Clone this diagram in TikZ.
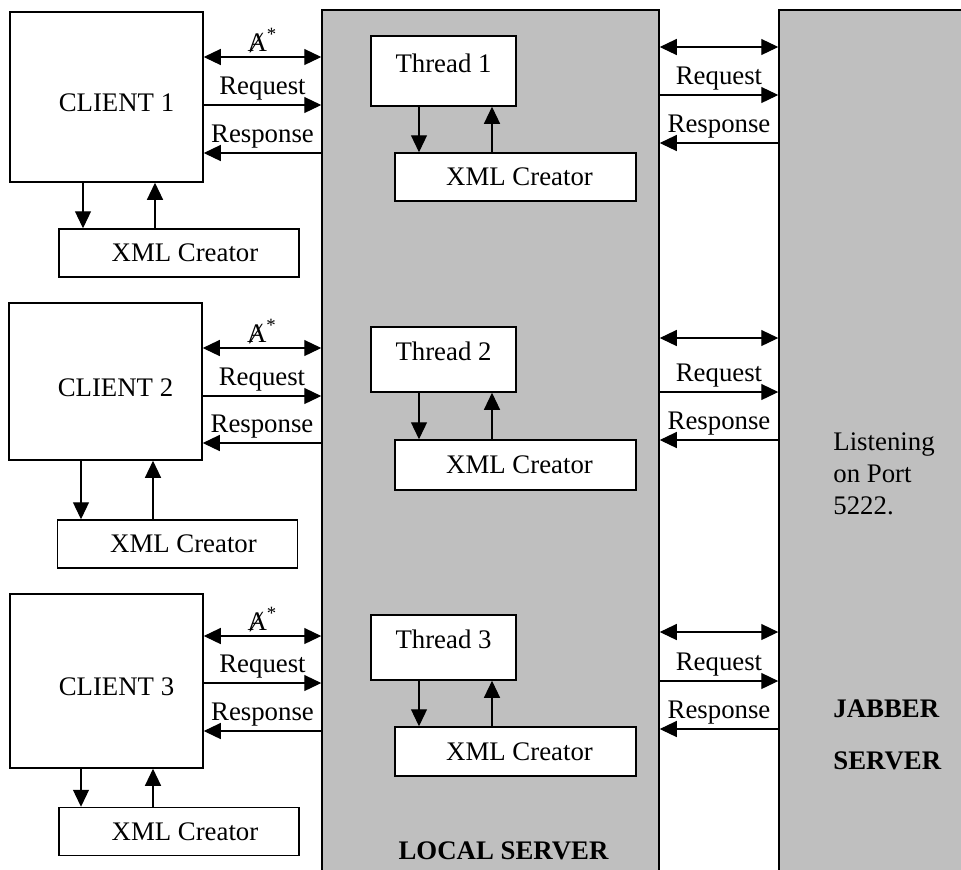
\documentclass[tikz,border=0pt]{standalone}
\usepackage{fontspec}
\setmainfont{Liberation Serif}
\usetikzlibrary{arrows.meta}
\pgfdeclarelayer{background}
\pgfsetlayers{background,main}
\def\px{0.5pt}
\def\clientlist{{(106.5,97)/193/170/1}, {(105.5,381.5)/193/157/2}, {(106.5,681)/193/174/3}}
\def\creatorlist{{(179,253)/48/1}, {(177.5,544)/48/2}, {(179,831.5)/48/3}}
\def\threadlist{{(443.5,71)/70/1}, {(443.5,359.5)/65/2}, {(443.5,647.5)/65/3}}
\def\innerlist{{(515.5,177)/48/1}, {(515.5,465)/50/2}, {(515.5,751.5)/49/3}}
\tikzstyle{server}=[draw,fill=black!25,line width=0.75pt,inner sep=0pt]
\tikzstyle{box}=[draw,fill=white,line width=0.75pt,inner sep=0pt]
\tikzstyle{arr}=[draw,line width=0.6pt,-{Triangle[length=8.5pt,width=8pt]}]
\tikzstyle{dbl}=[draw,line width=0.6pt,{Triangle[length=8.5pt,width=8pt]}-{Triangle[length=8.5pt,width=8pt]}]
\tikzstyle{tag}=[inner sep=2pt]

\begin{document}
\begin{tikzpicture}[x=0.5pt,y=-0.5pt,font=\fontsize{13.4}{16}\selectfont]
  \useasboundingbox (0,0) rectangle (961,869);

  % First we draw the two servers
  \begin{pgfonlayer}{background}
    \node[server,minimum width=337*\px,minimum height=875*\px] (ls) at (490.5,447.5) {};
    \node[server,minimum width=196*\px,minimum height=875*\px] (js) at (877,447.5) {};
  \end{pgfonlayer}

  \node[font=\fontsize{13.4}{16}\bfseries] (lstag) at (503.5,851) {LOCAL SERVER};
  \node[anchor=north west,align=left,inner sep=0pt] (listen) at (833,432) {Listening\\on Port\\5222.};
  \node[anchor=north west,align=left,inner sep=0pt,font=\fontsize{13.4}{16}\bfseries] (jstag) at (833,699) {JABBER\\[10pt]SERVER};

  % Clients and their XML creators
  \foreach \pos/\w/\h/\i in \clientlist
    \node[box,minimum width=\w*\px,minimum height=\h*\px,
      label={[xshift=5pt,yshift=-3pt]center:CLIENT \i}] (c\i) at \pos {};

  \foreach \pos/\h/\i in \creatorlist
    \node[box,minimum width=240*\px,minimum height=\h*\px,
      label={[xshift=3pt]center:XML Creator}] (x\i) at \pos {};

  % Threads inside the local server
  \foreach \pos/\h/\i in \threadlist
    \node[box,minimum width=145*\px,minimum height=\h*\px,
      label={[yshift=4pt]center:Thread \i}] (t\i) at \pos {};

  \foreach \pos/\h/\i in \innerlist
    \node[box,minimum width=241*\px,minimum height=\h*\px,
      label={[xshift=2pt]center:XML Creator}] (i\i) at \pos {};

  % Client <-> local server
  \foreach \i/\ya/\yb/\yc in {1/57/105/153, 2/348/396/443, 3/636/683/731} {
    \path[dbl] (c\i.east |- 0,\ya) -- (ls.west |- 0,\ya) node[tag,midway,above] {Ⱥ\textsuperscript{*}};
    \path[arr] (c\i.east |- 0,\yb) -- (ls.west |- 0,\yb) node[tag,midway,above] {Request};
    \path[arr] (ls.west |- 0,\yc) -- (c\i.east |- 0,\yc) node[tag,midway,above] {Response};
  }

  % Local server <-> jabber server
  \foreach \ya/\yb/\yc in {47/95/143, 338/392/440, 632/681/729} {
    \path[dbl] (ls.east |- 0,\ya) -- (js.west |- 0,\ya);
    \path[arr] (ls.east |- 0,\yb) -- (js.west |- 0,\yb) node[tag,midway,above] {Request};
    \path[arr] (js.west |- 0,\yc) -- (ls.east |- 0,\yc) node[tag,midway,above] {Response};
  }

  % Down and up to the XML creators
  \foreach \i/\xd/\xu in {1/83/155, 2/81/153, 3/81/153} {
    \path[arr] (c\i.south -| \xd,0) -- (x\i.north -| \xd,0);
    \path[arr] (x\i.north -| \xu,0) -- (c\i.south -| \xu,0);
  }
  \foreach \i in {1,2,3} {
    \path[arr] (t\i.south -| 419,0) -- (i\i.north -| 419,0);
    \path[arr] (i\i.north -| 492,0) -- (t\i.south -| 492,0);
  }
\end{tikzpicture}
\end{document}
